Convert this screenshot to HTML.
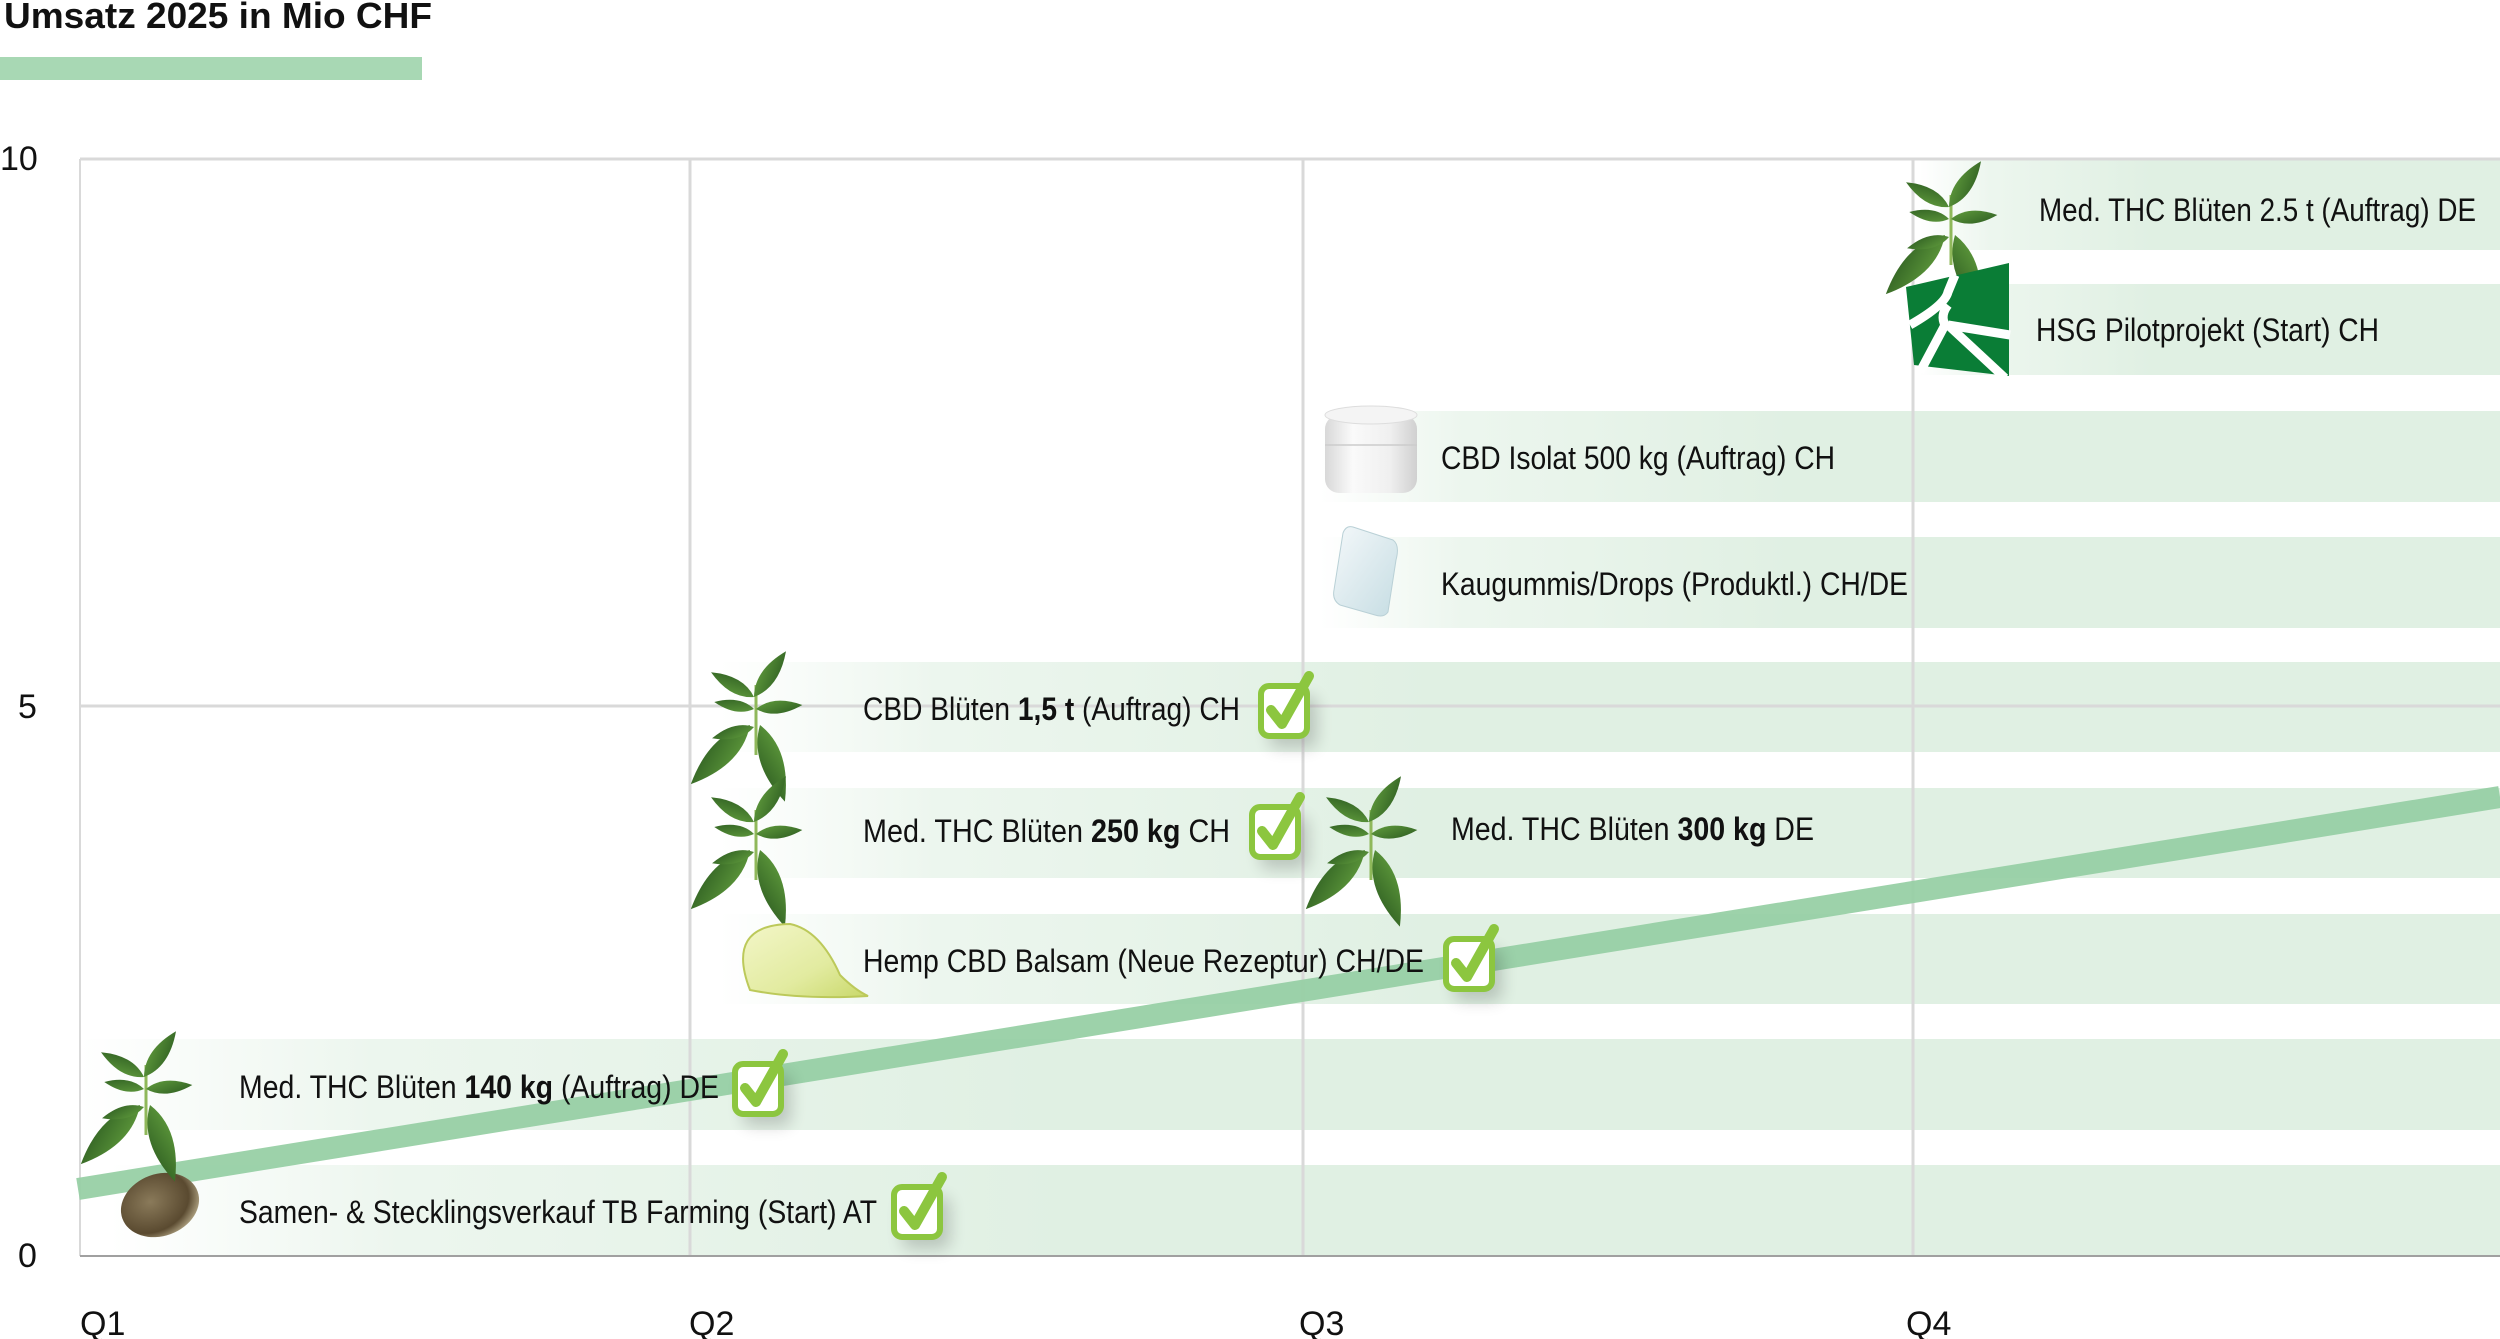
<!DOCTYPE html>
<html><head><meta charset="utf-8"><style>
html,body{margin:0;padding:0;background:#fff;}
svg{display:block;}
text{font-family:"Liberation Sans",Arial,sans-serif;fill:#111;}
</style></head><body>
<svg width="2500" height="1339" viewBox="0 0 2500 1339" xmlns="http://www.w3.org/2000/svg">
<defs>
  <linearGradient id="band" x1="0" x2="1" y1="0" y2="0">
    <stop offset="0" stop-color="#e0f0e3" stop-opacity="0"/>
    <stop offset="0.12" stop-color="#e0f0e3" stop-opacity="0.6"/>
    <stop offset="0.4" stop-color="#e0f0e3" stop-opacity="1"/>
    <stop offset="1" stop-color="#e0f0e3"/>
  </linearGradient>
  <linearGradient id="lf" x1="0" x2="1" y1="0" y2="1">
    <stop offset="0" stop-color="#5f9a3c"/><stop offset="1" stop-color="#2f5f22"/>
  </linearGradient>
  <radialGradient id="seed" cx="0.4" cy="0.4" r="0.7">
    <stop offset="0" stop-color="#8a7a5a"/><stop offset="0.7" stop-color="#5a4a30"/><stop offset="1" stop-color="#c8bc9a"/>
  </radialGradient>
  <linearGradient id="jar" x1="0" x2="1">
    <stop offset="0" stop-color="#d8d8d8"/><stop offset="0.3" stop-color="#fafafa"/><stop offset="0.7" stop-color="#f0f0f0"/><stop offset="1" stop-color="#d0d0d0"/>
  </linearGradient>
  <linearGradient id="gum" x1="0" x2="1" y1="0" y2="1">
    <stop offset="0" stop-color="#f4f8fa"/><stop offset="1" stop-color="#c6dde3"/>
  </linearGradient>
  <linearGradient id="drop" x1="0" x2="1" y1="0" y2="1">
    <stop offset="0" stop-color="#f3f6c8"/><stop offset="0.6" stop-color="#e2eba0"/><stop offset="1" stop-color="#c9d86a"/>
  </linearGradient>
  <filter id="sh" x="-50%" y="-50%" width="200%" height="200%"><feGaussianBlur stdDeviation="8"/></filter>
  <g id="leaflet"><path d="M0,0 Q25,-17 62,0 Q25,17 0,0Z"/></g>
  <g id="plant" fill="url(#lf)">
    <line x1="66" y1="30" x2="66" y2="100" stroke="#8fb85a" stroke-width="3"/>
    <use href="#leaflet" transform="translate(64,42) rotate(-55) scale(0.9)"/>
    <use href="#leaflet" transform="translate(64,42) rotate(-150) scale(0.8)"/>
    <use href="#leaflet" transform="translate(64,54) rotate(-170) scale(0.65)"/>
    <use href="#leaflet" transform="translate(66,54) rotate(-5) scale(0.75)"/>
    <use href="#leaflet" transform="translate(60,70) rotate(135) scale(1.35)"/>
    <use href="#leaflet" transform="translate(70,70) rotate(72) scale(1.3)"/>
    <use href="#leaflet" transform="translate(64,72) rotate(165) scale(0.7)"/>
  </g>
  <g id="chk">
    <rect x="-24" y="-24" width="48" height="52" rx="9" fill="#000" opacity="0.18" filter="url(#sh)" transform="translate(8,12)"/>
    <rect x="-24" y="-22" width="46" height="50" rx="8" fill="#fff" stroke="#8cc63f" stroke-width="6"/>
    <path d="M-14,2 L-3,16 L24,-32" fill="none" stroke="#8cc63f" stroke-width="10" stroke-linecap="round" stroke-linejoin="round"/>
  </g>
</defs>

<text x="4" y="28" font-size="36" font-weight="bold" textLength="428" lengthAdjust="spacingAndGlyphs">Umsatz 2025 in Mio CHF</text>
<rect x="0" y="57" width="422" height="23" fill="#a8d8b4"/>

<rect x="110" y="1165" width="2390" height="91" fill="url(#band)"/>
<rect x="80" y="1039" width="2420" height="91" fill="url(#band)"/>
<rect x="720" y="914" width="1780" height="90" fill="url(#band)"/>
<rect x="720" y="788" width="1780" height="90" fill="url(#band)"/>
<rect x="720" y="662" width="1780" height="90" fill="url(#band)"/>
<rect x="1320" y="537" width="1180" height="91" fill="url(#band)"/>
<rect x="1320" y="411" width="1180" height="91" fill="url(#band)"/>
<rect x="1920" y="284" width="580" height="91" fill="url(#band)"/>
<rect x="1920" y="159" width="580" height="91" fill="url(#band)"/>

<g stroke="#d9d9d9" stroke-width="3">
  <line x1="80" y1="159" x2="2500" y2="159"/>
  <line x1="80" y1="706" x2="2500" y2="706"/>
  <line x1="690" y1="159" x2="690" y2="1256"/>
  <line x1="1303" y1="159" x2="1303" y2="1256"/>
  <line x1="1913" y1="159" x2="1913" y2="1256"/>
</g>
<line x1="80" y1="159" x2="80" y2="1256" stroke="#d9d9d9" stroke-width="2"/>
<line x1="80" y1="1256" x2="2500" y2="1256" stroke="#a0a0a0" stroke-width="2"/>

<g font-size="34">
  <text x="0" y="170">10</text>
  <text x="18" y="718">5</text>
  <text x="18" y="1267">0</text>
  <text x="80" y="1335">Q1</text>
  <text x="689" y="1335">Q2</text>
  <text x="1299" y="1335">Q3</text>
  <text x="1906" y="1335">Q4</text>
</g>

<line x1="78" y1="1189" x2="2500" y2="797" stroke="#98d0a6" stroke-width="22" opacity="0.95"/>

<ellipse cx="160" cy="1205" rx="40" ry="31" transform="rotate(-20 160 1205)" fill="url(#seed)"/>
<use href="#plant" transform="translate(80,1035)"/>
<use href="#plant" transform="translate(690,655)"/>
<use href="#plant" transform="translate(690,780)"/>
<use href="#plant" transform="translate(1305,780)"/>
<use href="#plant" transform="translate(1885,165)"/>
<path d="M750,990 Q725,925 790,924 Q820,930 840,975 Q855,990 868,996 Q800,1000 750,990Z" fill="url(#drop)" stroke="#bcc95a" stroke-width="2"/>
<g>
  <rect x="1325" y="415" width="92" height="78" rx="14" fill="url(#jar)"/>
  <ellipse cx="1371" cy="415" rx="46" ry="9" fill="#f4f4f4" stroke="#ddd"/>
  <line x1="1325" y1="445" x2="1417" y2="445" stroke="#ccc" stroke-width="1.5"/>
</g>
<path d="M1353,527 L1393,540 Q1400,545 1396,560 L1388,612 Q1384,618 1375,615 L1340,605 Q1332,600 1334,590 L1343,533 Q1346,525 1353,527Z" fill="url(#gum)" stroke="#b9d0d6"/>
<g>
  <polygon points="1906,287 2009,263 2009,376 1914,365" fill="#0a7d36"/>
  <g stroke="#fff" stroke-width="9" fill="none">
    <path d="M1910,325 Q1945,305 1948,292 L1955,275"/>
    <path d="M1948,305 Q1940,315 1945,325 L1920,372"/>
    <path d="M1948,325 L2010,335"/>
    <path d="M1948,325 L2005,378"/>
  </g>
</g>

<g font-size="32">
  <text x="239" y="1223" textLength="638" lengthAdjust="spacingAndGlyphs">Samen- &amp; Stecklingsverkauf TB Farming (Start) AT</text>
  <text x="239" y="1098" textLength="480" lengthAdjust="spacingAndGlyphs">Med. THC Blüten <tspan font-weight="bold">140 kg</tspan> (Auftrag) DE</text>
  <text x="863" y="972" textLength="561" lengthAdjust="spacingAndGlyphs">Hemp CBD Balsam (Neue Rezeptur) CH/DE</text>
  <text x="863" y="842" textLength="367" lengthAdjust="spacingAndGlyphs">Med. THC Blüten <tspan font-weight="bold">250 kg</tspan>  CH</text>
  <text x="863" y="720" textLength="377" lengthAdjust="spacingAndGlyphs">CBD Blüten <tspan font-weight="bold">1,5 t</tspan> (Auftrag) CH</text>
  <text x="1451" y="840" textLength="363" lengthAdjust="spacingAndGlyphs">Med. THC Blüten <tspan font-weight="bold">300 kg</tspan> DE</text>
  <text x="1441" y="595" textLength="467" lengthAdjust="spacingAndGlyphs">Kaugummis/Drops (Produktl.) CH/DE</text>
  <text x="1441" y="469" textLength="394" lengthAdjust="spacingAndGlyphs">CBD Isolat 500 kg (Auftrag) CH</text>
  <text x="2036" y="341" textLength="343" lengthAdjust="spacingAndGlyphs">HSG Pilotprojekt (Start) CH</text>
  <text x="2039" y="221" textLength="437" lengthAdjust="spacingAndGlyphs">Med. THC Blüten 2.5 t (Auftrag) DE</text>
</g>

<use href="#chk" transform="translate(759,1086)"/>
<use href="#chk" transform="translate(918,1209)"/>
<use href="#chk" transform="translate(1470,961)"/>
<use href="#chk" transform="translate(1276,829)"/>
<use href="#chk" transform="translate(1285,708)"/>
</svg>
</body></html>
